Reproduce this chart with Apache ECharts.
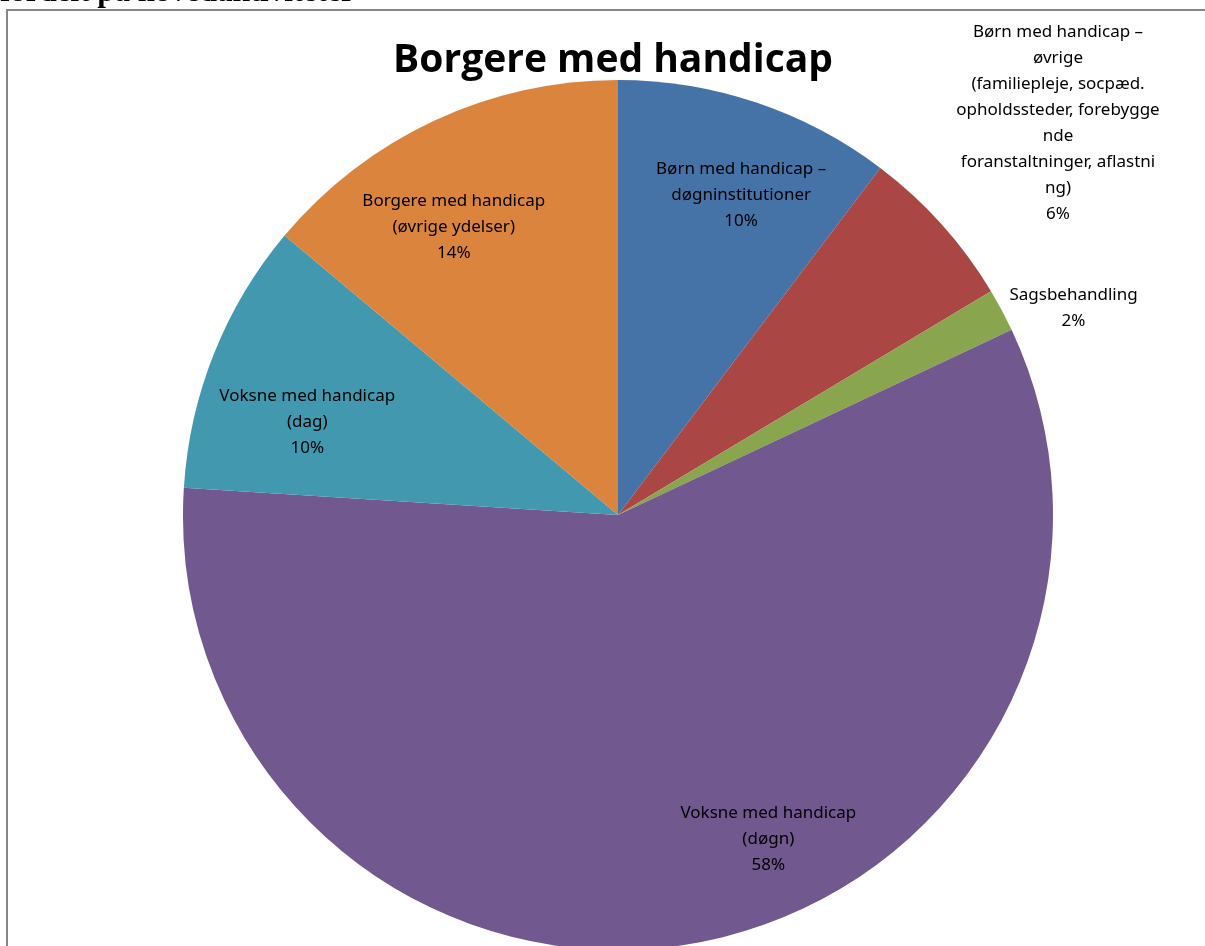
<!DOCTYPE html>
<html>
<head>
<meta charset="utf-8">
<title>Borgere med handicap</title>
<script src="https://cdn.jsdelivr.net/npm/echarts@6/dist/echarts.min.js"></script>
<style>
  html, body { margin: 0; padding: 0; background: #fff; overflow: hidden; }
  #chart { width: 1205px; height: 946px; }
</style>
</head>
<body>
<div id="chart"></div>
<script>
// kategorier (clockwise from 12 o'clock)
var categories = [
  'Børn med handicap – døgninstitutioner',
  'Børn med handicap – øvrige (familiepleje, socpæd. opholdssteder, forebyggende foranstaltninger, aflastning)',
  'Sagsbehandling',
  'Voksne med handicap (døgn)',
  'Voksne med handicap (dag)',
  'Borgere med handicap (øvrige ydelser)'
];
// label text as wrapped in the original
var labelTexts = [
  'Børn med handicap –\ndøgninstitutioner',
  'Børn med handicap –\nøvrige\n(familiepleje, socpæd.\nopholdssteder, forebygge\nnde\nforanstaltninger, aflastni\nng)',
  'Sagsbehandling',
  'Voksne med handicap\n(døgn)',
  'Voksne med handicap\n(dag)',
  'Borgere med handicap\n(øvrige ydelser)'
];
// andele (%)
var values = [10.3, 6.1, 1.6, 58.0, 10.1, 13.9];
var colors = ['#4572A7', '#AA4643', '#89A54E', '#71588F', '#4198AF', '#DB843D'];

// label nudges from the default inside spot
var labelShift = [[53, -111], [276, -244], [261, -103], [109, 108], [-106, -11], [-71, -88]];

var chart = echarts.init(document.getElementById('chart'));

var option = {
  backgroundColor: '#fff',
  animation: false,
  title: {
    text: 'Borgere med handicap',
    left: 608,
    top: 36,
    textAlign: 'center',
    textStyle: {
      fontFamily: 'Open Sans',
      fontWeight: 'bold',
      fontSize: 39,
      color: '#000'
    }
  },
  graphic: [
    {
      // heading above the chart, mostly cut off at the page top
      type: 'text',
      x: 0,
      y: -23,
      style: {
        text: 'fordelt på hovedaktiviteter',
        font: 'bold 31px "Liberation Serif"',
        fill: '#000',
        verticalAlign: 'top'
      },
      silent: true
    },
    {
      type: 'rect',
      shape: { x: 7, y: 10, width: 1300, height: 1000 },
      style: { fill: 'none', stroke: '#878787', lineWidth: 2 },
      silent: true
    }
  ],
  series: [
    {
      type: 'pie',
      center: [618, 515],
      radius: 435,
      startAngle: 90,
      clockwise: true,
      avoidLabelOverlap: false,
      percentPrecision: 0,
      itemStyle: { borderColor: '#fff', borderWidth: 0 },
      label: {
        show: true,
        position: 'inside',
        fontFamily: 'Noto Sans',
        fontSize: 17,
        lineHeight: 26,
        color: '#000',
        align: 'center',
        formatter: function (p) {
          return labelTexts[p.dataIndex] + '\n' + p.percent + '%';
        }
      },
      labelLine: { show: false },
      labelLayout: function (p) {
        return { dx: labelShift[p.dataIndex][0], dy: labelShift[p.dataIndex][1] };
      },
      data: categories.map(function (c, i) {
        return { name: c, value: values[i], itemStyle: { color: colors[i] } };
      })
    }
  ]
};

chart.setOption(option);
</script>
</body>
</html>
